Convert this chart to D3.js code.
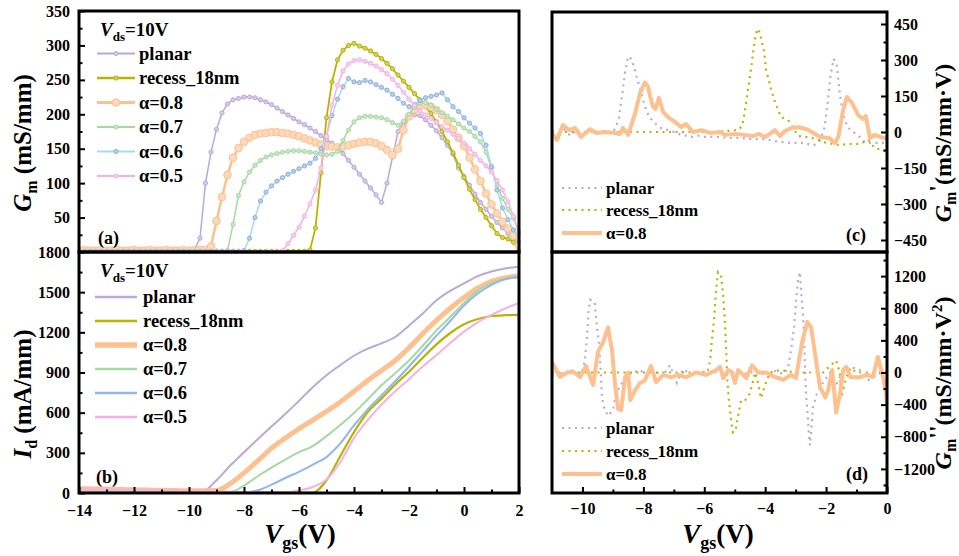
<!DOCTYPE html>
<html><head><meta charset="utf-8">
<script src="https://cdn.jsdelivr.net/npm/d3@7"></script>
<style>
body{margin:0;background:#fff}
svg, text{font-family:"Liberation Serif","Times New Roman","DejaVu Serif",serif !important;font-weight:bold;fill:#000}
.ax text{font-size:16px}
</style>
</head><body>
<svg id="c" width="959" height="556"></svg>
<script>
// ---------- DATA ----------
// Panel (a): Gm (mS/mm) vs Vgs, Vgs sweep -14..2 V in 0.2 V steps
const vgsStartA = -14, vgsStepA = 0.2;
const planarGm = [2,2,3,2,2,3,2,2,3,2,2,2,3,2,2,2,3,2,2,2,3,4,
 20,100,145,178,202,215,221,223,225,225,224,221,218,214,209,204,199,194,189,185,180,175,169,163,158,152,143,133,123,113,103,93,83,72,100,138,175,188,196,199,198,192,184,176,166,155,142,122,110,97,84,72,62,52,43,35,27,18,6];
const recessGm = [1,1,1,1,1,1,1,1,1,1,1,1,1,1,1,1,1,1,1,1,1,1,1,1,1,1,1,1,1,1,1,1,1,1,1,1,1,1,1,1,1,1,
 3,35,115,195,247,279,293,300,303,299,296,292,287,281,274,266,257,248,239,230,221,211,201,189,175,160,144,126,108,91,76,62,50,38,27,21,19,14,2];
const a08Gm = [2,3,2,2,3,2,2,3,2,2,3,2,2,3,2,2,3,2,2,3,2,2,3,3,
 8,45,80,112,137,151,160,166,170,172,173,174,174,173,172,170,168,165,162,159,156,154,153,152,153,155,157,159,160,160,158,154,148,141,150,177,197,207,213,214,211,206,199,190,178,166,154,137,120,103,85,69,56,44,34,24,10];
const a07Gm = [1,1,1,1,1,1,1,1,1,1,1,1,1,1,1,1,1,1,1,1,1,1,1,1,1,1,1,2,
 40,82,102,116,126,133,138,141,143,145,146,147,147,146,145,144,142,141,142,146,162,177,189,195,197,197,196,195,192,188,184,190,200,210,216,217,213,207,202,197,192,186,180,175,168,160,145,122,96,78,62,49,30];
const a06Gm = [1,1,1,1,1,1,1,1,1,1,1,1,1,1,1,1,1,1,1,1,1,1,1,1,1,1,1,1,1,1,2,
 20,50,74,87,96,103,108,113,117,121,125,129,136,150,168,198,222,240,252,247,246,249,247,243,239,235,229,223,216,211,214,220,224,226,228,231,221,211,204,195,187,180,172,155,124,90,64,47,32,15];
const a05Gm = [0,0,0,0,0,0,0,0,0,0,0,0,0,0,0,0,0,0,0,0,0,0,0,0,0,0,0,0,0,0,0,0,0,0,0,0,1,2,
 12,24,36,52,70,90,122,168,213,242,263,273,278,279,277,274,270,265,259,251,242,232,222,213,205,199,194,188,182,177,171,165,158,150,142,133,125,116,104,90,73,52,25];

// Panel (b): Id (mA/mm) vs Vgs, -14..2 V in 0.5 V steps
const vgsB = [-14,-13.5,-13,-12.5,-12,-11.5,-11,-10.5,-10,-9.5,-9,-8.5,-8,-7.5,-7,-6.5,-6,-5.5,-5,-4.5,-4,-3.5,-3,-2.5,-2,-1.5,-1,-0.5,0,0.5,1,1.5,2];
const planarId = [20,18,16,14,13,12,11,10,10,12,95,205,305,402,497,590,688,790,880,955,1025,1078,1118,1165,1250,1340,1440,1510,1565,1620,1655,1677,1690];
const recessId = [3,3,3,3,3,3,3,3,3,3,3,3,3,3,3,3,3,2,95,275,455,605,705,810,905,1010,1110,1195,1260,1300,1322,1328,1330];
const a08Id = [32,30,28,26,24,22,20,18,17,16,18,70,150,240,335,410,480,545,610,680,760,840,915,990,1085,1190,1290,1380,1460,1530,1580,1608,1620];
const a07Id = [6,6,6,6,6,6,6,6,6,6,6,8,55,125,190,250,305,350,425,508,598,700,805,895,990,1100,1215,1315,1420,1510,1568,1600,1613];
const a06Id = [3,3,3,3,3,3,3,3,3,3,3,3,3,20,62,112,158,212,268,370,505,625,730,835,945,1060,1175,1285,1400,1490,1555,1598,1615];
const a05Id = [30,28,26,24,22,20,18,16,15,14,12,10,8,6,5,5,20,45,100,230,410,545,660,760,850,945,1030,1120,1205,1275,1330,1378,1420];

// Panel (c): Gm' (mS/mm·V) [Vgs, value]
const planarD1 = [[-11,5],[-10.8,-5],[-10.6,10],[-10.4,-15],[-10.2,5],[-10,-10],[-9.8,10],[-9.6,0],[-9.4,5],[-9.2,0],[-9,0],[-8.9,20],[-8.8,60],[-8.7,150],[-8.6,250],[-8.5,315],[-8.4,305],[-8.3,270],[-8.2,220],[-8.1,180],[-8,130],[-7.9,90],[-7.8,60],[-7.6,35],[-7.4,15],[-7.2,8],[-7,0],[-6.8,-10],[-6.6,-15],[-6.4,-20],[-6.2,-15],[-6,-20],[-5.6,-20],[-5.2,-25],[-4.8,-25],[-4.4,-30],[-4,-30],[-3.6,-40],[-3.2,-45],[-2.8,-45],[-2.4,-55],[-2.2,-35],[-2.05,20],[-1.95,120],[-1.85,240],[-1.75,305],[-1.65,280],[-1.55,160],[-1.45,80],[-1.3,20],[-1.1,0],[-0.9,-20],[-0.7,-45],[-0.4,-45],[-0.1,-45],[0,-50]];
const recessD1 = [[-11,0],[-9,0],[-7,0],[-5.6,0],[-5.2,5],[-4.9,8],[-4.75,25],[-4.65,100],[-4.55,190],[-4.45,275],[-4.38,350],[-4.32,400],[-4.25,430],[-4.17,412],[-4.1,370],[-4.03,330],[-3.97,258],[-3.88,215],[-3.8,175],[-3.7,133],[-3.6,100],[-3.48,62],[-3.25,50],[-3,0],[-2.9,-17],[-2.6,-21],[-2.33,-29],[-2.1,-42],[-1.6,-54],[-1.2,-50],[-0.9,-50],[-0.62,-33],[-0.4,-67],[-0.15,-75],[0,-85]];
const a08D1 = [[-11,-4],[-10.84,-33],[-10.64,29],[-10.45,8],[-10.24,17],[-10.05,-21],[-9.75,12],[-9.55,-4],[-9.23,0],[-8.95,-4],[-8.77,-8],[-8.67,17],[-8.5,-12],[-8.27,79],[-8.11,162],[-7.95,206],[-7.85,190],[-7.78,150],[-7.68,104],[-7.6,96],[-7.49,142],[-7.35,83],[-7.19,62],[-6.96,42],[-6.76,21],[-6.6,33],[-6.37,0],[-6.1,8],[-5.81,-4],[-5.5,0],[-5.3,-12],[-4.99,-8],[-4.7,-12],[-4.4,-17],[-4.2,-8],[-4,-21],[-3.68,8],[-3.51,-17],[-3.35,5],[-3.1,18],[-2.9,20],[-2.6,10],[-2.4,-5],[-2.2,-21],[-1.9,-25],[-1.71,-46],[-1.6,-21],[-1.44,92],[-1.32,146],[-1.15,121],[-0.95,71],[-0.79,54],[-0.7,67],[-0.56,-25],[-0.4,-12],[-0.2,-21],[0,-29]];

// Panel (d): Gm'' (mS/mm·V²) [Vgs, value]
const planarD2 = [[-11,-50],[-10.8,30],[-10.6,-30],[-10.4,40],[-10.2,-20],[-10,30],[-9.92,150],[-9.85,450],[-9.8,750],[-9.75,905],[-9.6,880],[-9.55,655],[-9.46,370],[-9.4,31],[-9.36,-310],[-9.28,-450],[-9.16,-540],[-9,-470],[-8.9,-260],[-8.77,-180],[-8.6,-56],[-8.35,0],[-8.1,31],[-7.9,-40],[-7.6,20],[-7.4,-60],[-7.13,90],[-6.9,-130],[-6.7,40],[-6.4,-30],[-6.1,20],[-5.8,-20],[-5.5,30],[-5.2,-30],[-4.9,20],[-4.6,-20],[-4.3,30],[-4,-30],[-3.7,20],[-3.4,-20],[-3.25,56],[-3.15,280],[-3.05,570],[-2.98,905],[-2.92,1150],[-2.86,1250],[-2.82,1025],[-2.75,655],[-2.7,150],[-2.66,-260],[-2.6,-555],[-2.56,-780],[-2.53,-905],[-2.48,-680],[-2.43,-430],[-2.3,-260],[-2.2,-180],[-1.87,0],[-1.7,-180],[-1.44,31],[-1.2,70],[-0.9,31],[-0.6,-90],[-0.3,-20],[0,10]];
const recessD2 = [[-11,0],[-6,0],[-5.88,31],[-5.81,150],[-5.75,400],[-5.68,650],[-5.62,990],[-5.55,1250],[-5.45,1215],[-5.38,965],[-5.32,620],[-5.28,280],[-5.25,-56],[-5.19,-345],[-5.12,-600],[-5.06,-745],[-4.97,-720],[-4.9,-555],[-4.79,-345],[-4.66,-345],[-4.5,-260],[-4.33,0],[-4.25,-100],[-4.14,-320],[-4,-150],[-3.84,0],[-3.5,31],[-3,0],[-2.1,0],[-1.77,115],[-1.67,150],[-1.55,0],[-1.5,-310],[-1.43,-200],[-1.35,-70],[-1.2,56],[-1,0],[0,0]];
const a08D2 = [[-11,130],[-10.9,56],[-10.74,-56],[-10.5,0],[-10.3,10],[-10.08,-56],[-9.88,80],[-9.65,-155],[-9.49,260],[-9.33,370],[-9.16,560],[-9.03,280],[-8.92,-180],[-8.83,-450],[-8.73,-470],[-8.6,-56],[-8.5,0],[-8.43,-345],[-8.27,-220],[-8.11,-130],[-7.95,-100],[-7.75,80],[-7.58,-120],[-7.35,-30],[-7.1,-60],[-6.86,-30],[-6.6,-60],[-6.27,0],[-5.94,-30],[-5.61,31],[-5.48,70],[-5.38,-70],[-5.22,31],[-5.1,10],[-4.99,-130],[-4.89,31],[-4.75,-20],[-4.62,-70],[-4.43,90],[-4.23,0],[-3.97,0],[-3.68,-56],[-3.41,-90],[-3.15,-30],[-2.99,-70],[-2.79,370],[-2.62,630],[-2.49,560],[-2.33,150],[-2.2,-180],[-2.03,-310],[-1.93,-220],[-1.8,31],[-1.67,-500],[-1.54,-260],[-1.44,31],[-1.34,70],[-1.2,-56],[-0.9,-60],[-0.66,-30],[-0.46,-56],[-0.3,195],[-0.13,-56],[-0.03,-260],[0,-385]];

// Tick labels
const ticksGm = [50,100,150,200,250,300,350];
const ticksId = [0,300,600,900,1200,1500,1800];
const ticksXL = [-14,-12,-10,-8,-6,-4,-2,0,2];
const ticksD1 = [-450,-300,-150,0,150,300,450];
const ticksD2 = [-1200,-800,-400,0,400,800,1200];
const ticksXR = [-10,-8,-6,-4,-2,0];
const names = ["planar","recess_18nm","α=0.8","α=0.7","α=0.6","α=0.5"];

// ---------- STYLES ----------
const C = {planar:"#baa8d8", recess:"#b8b400", a08:"#fdc08e", a07:"#a5d9a3", a06:"#8eaee0", a06l:"#a8dce2", a06b:"#93b6ee", a05:"#f7b0e4"};
const FONT = '"Liberation Serif","Times New Roman","DejaVu Serif",serif';
const fmt = d3.format("d");

const svg = d3.select("#c").attr("font-family",FONT);
const xL = d3.scaleLinear().domain([-14,2]).range([79,519]);
const yA = d3.scaleLinear().domain([0,350]).range([252,11]);
const yB = d3.scaleLinear().domain([0,1800]).range([493,252]);
const xR = d3.scaleLinear().domain([-11,0]).range([552,887]);
const yC = d3.scaleLinear().domain([-500,500]).range([252,12]);
const yD = d3.scaleLinear().domain([-1500,1500]).range([493,252]);

const defs = svg.append("defs");
function clip(id,x0,y0,x1,y1){defs.append("clipPath").attr("id",id).append("rect").attr("x",x0).attr("y",y0).attr("width",x1-x0).attr("height",y1-y0);}
clip("ca",79,11,521,252); clip("cb",79,252,519,493); clip("cc",552,12,887,252); clip("cd",552,252,887,493);

// ---------- PANEL (a) ----------
const gridA = planarGm.map((_,i)=>+(vgsStartA + i*vgsStepA).toFixed(1));
const gmSeries = [
  {v:planarGm, line:C.planar, mk:C.planar, r:2.1, w:1.5},
  {v:recessGm, line:C.recess, mk:C.recess, r:2.1, w:1.8},
  {v:a08Gm, line:C.a08, mk:C.a08, r:3.8, w:2.5},
  {v:a07Gm, line:C.a07, mk:C.a07, r:2.1, w:1.5},
  {v:a06Gm, line:C.a06l, mk:C.a06, r:2.1, w:1.5},
  {v:a05Gm, line:C.a05, mk:C.a05, r:2.1, w:1.5}
];
const gA = svg.append("g").attr("clip-path","url(#ca)");
const lineA = d3.line().x((d,i)=>xL(gridA[i])).y(d=>yA(d));
gmSeries.forEach(s=>{
  gA.append("path").attr("d",lineA(s.v)).attr("fill","none").attr("stroke",s.line).attr("stroke-width",s.w);
  gA.selectAll(null).data(s.v).enter().append("circle")
    .attr("cx",(d,i)=>xL(gridA[i])).attr("cy",d=>yA(d)).attr("r",s.r)
    .attr("fill",d3.interpolateRgb(s.mk,"#fff")(0.4)).attr("stroke",s.mk).attr("stroke-width",1);
});

// ---------- PANEL (b) ----------
const idSeries = [
  {v:planarId, c:C.planar, w:2},
  {v:recessId, c:C.recess, w:2.2},
  {v:a08Id, c:C.a08, w:5},
  {v:a07Id, c:C.a07, w:2},
  {v:a06Id, c:C.a06b, w:2},
  {v:a05Id, c:C.a05, w:2}
];
const gB = svg.append("g").attr("clip-path","url(#cb)");
const lineB = d3.line().x((d,i)=>xL(vgsB[i])).y(d=>yB(d)).curve(d3.curveMonotoneX);
idSeries.forEach(s=>{
  gB.append("path").attr("d",lineB(s.v)).attr("fill","none").attr("stroke",s.c).attr("stroke-width",s.w);
});

// ---------- PANELS (c), (d) ----------
const lineR = (y)=>d3.line().x(d=>xR(d[0])).y(d=>y(d[1]));
function drawDeriv(clipId, y, pl, rc, a8){
  const g = svg.append("g").attr("clip-path",`url(#${clipId})`);
  g.append("path").attr("d",lineR(y)(pl)).attr("fill","none").attr("stroke",C.planar).attr("stroke-width",2.2).attr("stroke-dasharray","2 4.5");
  g.append("path").attr("d",lineR(y)(rc)).attr("fill","none").attr("stroke",C.recess).attr("stroke-width",2.2).attr("stroke-dasharray","2 4.5");
  g.append("path").attr("d",lineR(y)(a8)).attr("fill","none").attr("stroke",C.a08).attr("stroke-width",4).attr("stroke-linejoin","round");
}
drawDeriv("cc", yC, planarD1, recessD1, a08D1);
drawDeriv("cd", yD, planarD2, recessD2, a08D2);

// ---------- AXES ----------
function styleAxis(g){
  g.select(".domain").remove();
  g.attr("font-size",null).attr("font-family",FONT);
  g.selectAll("line").attr("stroke","#000").attr("stroke-width",2);
  g.selectAll("text").attr("fill","#000").attr("font-family",FONT).attr("font-weight","bold");
}
function minors(major){ const m=[]; for(let i=0;i<major.length-1;i++) m.push((major[i]+major[i+1])/2); return m; }
const ax = svg.append("g").attr("class","ax");
// (a) left
ax.append("g").attr("transform","translate(79,0)").call(d3.axisLeft(yA).tickValues(ticksGm).tickFormat(fmt).tickSize(-6).tickPadding(9)).call(styleAxis);
ax.append("g").attr("transform","translate(79,0)").call(d3.axisLeft(yA).tickValues(minors([0].concat(ticksGm))).tickSize(-3.5).tickFormat("")).call(styleAxis);
// (b) left
ax.append("g").attr("transform","translate(79,0)").call(d3.axisLeft(yB).tickValues(ticksId).tickFormat(fmt).tickSize(-6).tickPadding(9)).call(styleAxis);
ax.append("g").attr("transform","translate(79,0)").call(d3.axisLeft(yB).tickValues(minors(ticksId)).tickSize(-3.5).tickFormat("")).call(styleAxis);
// (b) bottom
ax.append("g").attr("transform","translate(0,493)").call(d3.axisBottom(xL).tickValues(ticksXL).tickFormat(fmt).tickSize(-6).tickPadding(12)).call(styleAxis);
ax.append("g").attr("transform","translate(0,493)").call(d3.axisBottom(xL).tickValues(minors(ticksXL)).tickSize(-3.5).tickFormat("")).call(styleAxis);
// (c) right
ax.append("g").attr("transform","translate(887,0)").call(d3.axisRight(yC).tickValues(ticksD1).tickFormat(fmt).tickSize(-6).tickPadding(7)).call(styleAxis);
ax.append("g").attr("transform","translate(887,0)").call(d3.axisRight(yC).tickValues(minors([-600].concat(ticksD1,[600])).filter(v=>v>-500&&v<500)).tickSize(-3.5).tickFormat("")).call(styleAxis);
// (d) right
ax.append("g").attr("transform","translate(887,0)").call(d3.axisRight(yD).tickValues(ticksD2).tickFormat(fmt).tickSize(-6).tickPadding(7)).call(styleAxis);
ax.append("g").attr("transform","translate(887,0)").call(d3.axisRight(yD).tickValues(minors([-1600].concat(ticksD2,[1600])).filter(v=>v>-1500&&v<1500)).tickSize(-3.5).tickFormat("")).call(styleAxis);
// (d) bottom
ax.append("g").attr("transform","translate(0,493)").call(d3.axisBottom(xR).tickValues(ticksXR).tickFormat(fmt).tickSize(-6).tickPadding(10)).call(styleAxis);
ax.append("g").attr("transform","translate(0,493)").call(d3.axisBottom(xR).tickValues(minors([-12].concat(ticksXR)).filter(v=>v>-11)).tickSize(-3.5).tickFormat("")).call(styleAxis);

// ---------- FRAMES ----------
[[79,11,519,252],[79,252,519,493],[552,12,887,252],[552,252,887,493]].forEach(r=>{
  svg.append("rect").attr("x",r[0]).attr("y",r[1]).attr("width",r[2]-r[0]).attr("height",r[3]-r[1])
    .attr("fill","none").attr("stroke","#000").attr("stroke-width",3);
});

// ---------- LEGENDS ----------
function vdsText(x,y){
  const t = svg.append("text").attr("x",x).attr("y",y).attr("font-size",19);
  t.append("tspan").attr("font-style","italic").text("V");
  t.append("tspan").attr("dy",5).attr("font-size",13).text("ds");
  t.append("tspan").attr("dy",-5).text("=10V");
}
vdsText(100,36);
gmSeries.forEach((s,i)=>{
  const y = 53.5 + i*24.5;
  svg.append("line").attr("x1",97).attr("x2",135).attr("y1",y).attr("y2",y).attr("stroke",s.line).attr("stroke-width",s.w+0.5);
  svg.append("circle").attr("cx",116).attr("cy",y).attr("r",s.r).attr("fill",d3.interpolateRgb(s.mk,"#fff")(0.4)).attr("stroke",s.mk);
  svg.append("text").attr("x",139).attr("y",y).attr("dy","0.33em").attr("font-size",18.5).text(names[i]);
});
vdsText(100,277);
idSeries.forEach((s,i)=>{
  const y = 297 + i*24;
  svg.append("line").attr("x1",95).attr("x2",137).attr("y1",y).attr("y2",y).attr("stroke",s.c).attr("stroke-width",s.w+0.5);
  svg.append("text").attr("x",143).attr("y",y).attr("dy","0.33em").attr("font-size",18.5).text(names[i]);
});
function derivLegend(ys){
  const st = [{c:C.planar,d:"2 4.5",w:2.2},{c:C.recess,d:"2 4.5",w:2.2},{c:C.a08,d:null,w:4}];
  [0,1,2].forEach(i=>{
    const l = svg.append("line").attr("x1",562).attr("x2",602).attr("y1",ys[i]).attr("y2",ys[i]).attr("stroke",st[i].c).attr("stroke-width",st[i].w);
    if(st[i].d) l.attr("stroke-dasharray",st[i].d);
    svg.append("text").attr("x",606).attr("y",ys[i]).attr("dy","0.33em").attr("font-size",17).text(names[i]);
  });
}
derivLegend([188,210,233]);
derivLegend([428,451,474]);

// panel tags
svg.append("text").attr("x",98).attr("y",244).attr("font-size",18).text("(a)");
svg.append("text").attr("x",96).attr("y",483).attr("font-size",18).text("(b)");
svg.append("text").attr("x",846).attr("y",241).attr("font-size",18).text("(c)");
svg.append("text").attr("x",846).attr("y",480).attr("font-size",18).text("(d)");

// ---------- AXIS TITLES ----------
function yTitle(x,y,main,sub,rest){
  const t = svg.append("text").attr("transform",`translate(${x},${y}) rotate(-90)`).attr("text-anchor","middle").attr("font-size",25);
  t.append("tspan").attr("font-style","italic").text(main);
  t.append("tspan").attr("dy",6).attr("font-size",16).text(sub);
  return t.append("tspan").attr("dy",-6).text(rest);
}
yTitle(31,143,"G","m"," (mS/mm)");
yTitle(31,394,"I","d"," (mA/mm)");
(function(){
  const t = svg.append("text").attr("transform","translate(951,143) rotate(-90)").attr("text-anchor","middle").attr("font-size",24);
  t.append("tspan").attr("font-style","italic").text("G");
  t.append("tspan").attr("dy",5).attr("font-size",16).text("m");
  t.append("tspan").attr("dy",-11).text("'");
  t.append("tspan").attr("dy",6).text("(mS/mm·V)");
})();
(function(){
  const t = svg.append("text").attr("transform","translate(951,383) rotate(-90)").attr("text-anchor","middle").attr("font-size",24);
  t.append("tspan").attr("font-style","italic").text("G");
  t.append("tspan").attr("dy",5).attr("font-size",16).text("m");
  t.append("tspan").attr("dy",-11).text("''");
  t.append("tspan").attr("dy",6).text("(mS/mm·V");
  t.append("tspan").attr("dy",-9).attr("font-size",15).text("2");
  t.append("tspan").attr("dy",9).text(")");
})();
function xTitle(cx){
  const t = svg.append("text").attr("x",cx).attr("y",543).attr("text-anchor","middle").attr("font-size",27);
  t.append("tspan").attr("font-style","italic").text("V");
  t.append("tspan").attr("dy",6).attr("font-size",18).text("gs");
  t.append("tspan").attr("dy",-6).text("(V)");
}
xTitle(300); xTitle(718);
</script>
</body></html>
